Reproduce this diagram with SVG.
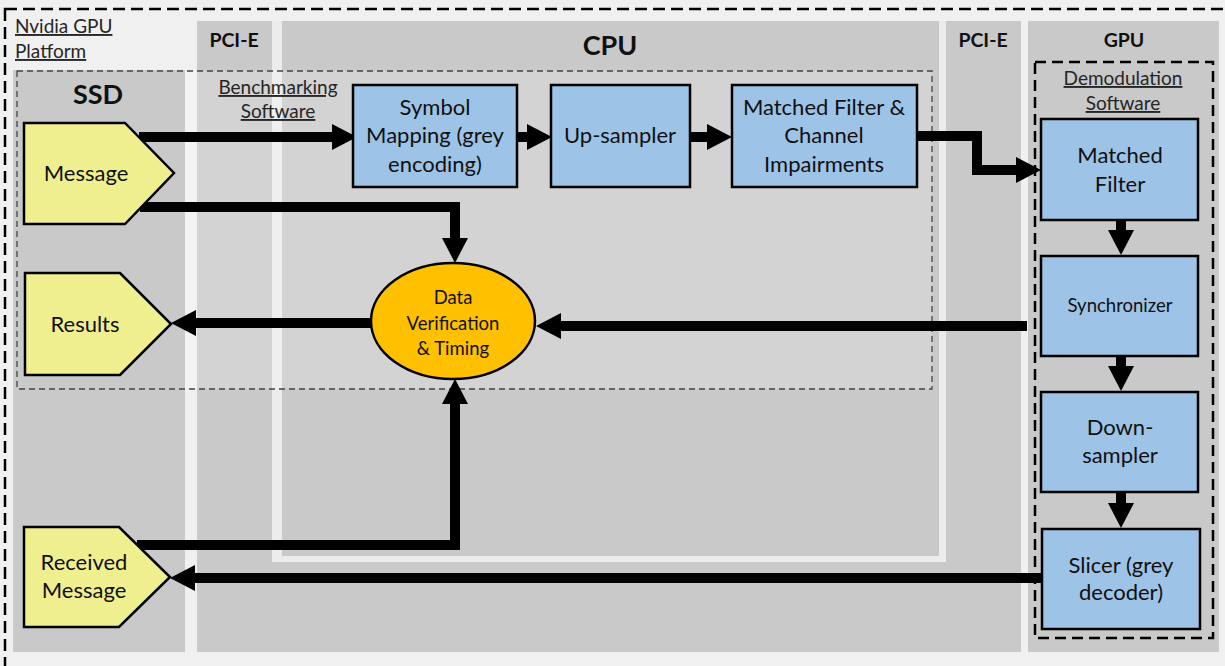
<svg xmlns="http://www.w3.org/2000/svg" width="1225" height="666" viewBox="0 0 1225 666">
<defs>
<style>
.col{fill:#c9c9c9}
.t{font-family:Lato,"Open Sans",sans-serif;fill:#111}
.lbl{font-size:22px;text-anchor:middle}
.sm{font-size:18.5px;text-anchor:middle}
.hd{font-weight:bold;text-anchor:middle}
.ul{font-size:19px;text-decoration:underline;fill:#262626}
.blk{fill:#9dc3e6;stroke:#000;stroke-width:2.5}
.pent{fill:#efef90;stroke:#000;stroke-width:2.5}
.ln{fill:none;stroke:#000;stroke-width:10;marker-end:url(#ah)}
</style>
<marker id="ah" markerUnits="userSpaceOnUse" markerWidth="25" markerHeight="26" refX="0" refY="13" orient="auto" viewBox="0 0 25 26"><path d="M0,0 L25,13 L0,26 Z" fill="#000"/></marker>
</defs>
<g id="background">
<rect x="0" y="0" width="1225" height="666" fill="#f0f0f0"/>
<rect class="col" x="197" y="21" width="824" height="631"/>
<rect x="272" y="21" width="674" height="541" fill="#ececec"/>
<rect class="col" x="282" y="21" width="657" height="535"/>
<rect class="col" x="1028" y="21" width="191" height="631"/>
<rect x="17" y="71" width="915" height="318" fill="#fff" fill-opacity="0.2"/>
<rect class="col" x="13" y="70" width="172" height="582"/>
<rect x="17" y="71" width="915" height="318" fill="none" stroke="#444" stroke-width="1.3" stroke-dasharray="6 4"/>
<rect x="1035" y="62" width="178" height="576" fill="none" stroke="#000" stroke-width="2.5" stroke-dasharray="11 6"/>
<rect x="5" y="9" width="1250" height="700" fill="none" stroke="#000" stroke-width="2.5" stroke-dasharray="12 6"/>
</g>
<g id="labels">
<text class="t ul" x="15" y="33">Nvidia GPU</text>
<text class="t ul" x="15" y="58">Platform</text>
<text class="t hd" x="234" y="47" font-size="19.5">PCI-E</text>
<text class="t hd" x="610" y="55" font-size="27">CPU</text>
<text class="t hd" x="983" y="47" font-size="19.5">PCI-E</text>
<text class="t hd" x="1124" y="47" font-size="19.5">GPU</text>
<text class="t hd" x="98" y="104" font-size="27">SSD</text>
<text class="t ul" x="278" y="94" text-anchor="middle">Benchmarking</text>
<text class="t ul" x="278" y="118" text-anchor="middle">Software</text>
<text class="t ul" x="1123" y="85" text-anchor="middle">Demodulation</text>
<text class="t ul" x="1123" y="110" text-anchor="middle">Software</text>
</g>
<g id="connectors">
<path class="ln" d="M139,137 H332"/>
<path class="ln" d="M517,137 H527"/>
<path class="ln" d="M690,137 H707"/>
<path class="ln" d="M917,136 H977 V170 H1016"/>
<path class="ln" d="M140,207 H455 V238"/>
<path class="ln" d="M1027,326 H561"/>
<path class="ln" d="M371,323 H196"/>
<path class="ln" d="M137,545 H455 V404"/>
<path class="ln" d="M1042,578 H195"/>
<path class="ln" d="M1121,220 V230"/>
<path class="ln" d="M1121,356 V366"/>
<path class="ln" d="M1121,492 V503"/>
</g>
<g id="message">
<polygon class="pent" points="24,123 125,123 174,173 125,224 24,224"/>
<text class="t lbl" x="86" y="181">Message</text>
</g>
<g id="results">
<polygon class="pent" points="25,273 120,273 171,324 120,375 25,375"/>
<text class="t lbl" x="85" y="332">Results</text>
</g>
<g id="received-message">
<polygon class="pent" points="24,527 119,527 170,577 119,627 24,627"/>
<text class="t lbl" x="84" y="570">Received</text>
<text class="t lbl" x="84" y="598">Message</text>
</g>
<g id="symbol-mapping">
<rect class="blk" x="353" y="85" width="164" height="102"/>
<text class="t lbl" x="435" y="115">Symbol</text>
<text class="t lbl" x="435" y="143">Mapping (grey</text>
<text class="t lbl" x="435" y="172">encoding)</text>
</g>
<g id="up-sampler">
<rect class="blk" x="551" y="85" width="139" height="102"/>
<text class="t lbl" x="620" y="143">Up-sampler</text>
</g>
<g id="matched-filter-channel">
<rect class="blk" x="732" y="85" width="185" height="102"/>
<text class="t lbl" x="824" y="115">Matched Filter &amp;</text>
<text class="t lbl" x="824" y="143">Channel</text>
<text class="t lbl" x="824" y="172">Impairments</text>
</g>
<g id="data-verification">
<ellipse cx="453" cy="321" rx="82" ry="58" fill="#ffc000" stroke="#000" stroke-width="2.5"/>
<text class="t" x="453" y="304" font-size="18.5" text-anchor="middle">Data</text>
<text class="t" x="453" y="330" font-size="18.5" text-anchor="middle">Verification</text>
<text class="t" x="453" y="355" font-size="18.5" text-anchor="middle">&amp; Timing</text>
</g>
<g id="matched-filter">
<rect class="blk" x="1041" y="119" width="157" height="101"/>
<text class="t lbl" x="1120" y="163">Matched</text>
<text class="t lbl" x="1120" y="192">Filter</text>
</g>
<g id="synchronizer">
<rect class="blk" x="1041" y="256" width="157" height="100"/>
<text class="t sm" x="1120" y="312">Synchronizer</text>
</g>
<g id="down-sampler">
<rect class="blk" x="1041" y="392" width="157" height="100"/>
<text class="t lbl" x="1120" y="435">Down-</text>
<text class="t lbl" x="1120" y="463">sampler</text>
</g>
<g id="slicer">
<rect class="blk" x="1042" y="529" width="158" height="100"/>
<text class="t lbl" x="1121" y="573">Slicer (grey</text>
<text class="t lbl" x="1121" y="600">decoder)</text>
</g>
</svg>
